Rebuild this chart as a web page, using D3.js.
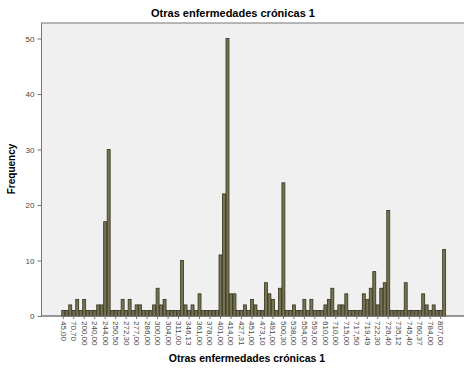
<!DOCTYPE html>
<meta charset="utf-8">
<title>Otras enfermedades crónicas 1</title>
<script src="https://d3js.org/d3.v7.min.js"></script>
<style>
body { margin: 0; background: #fff; }
text { font-family: "Liberation Sans", Arial, sans-serif; }
.tick text { fill: #444; font-size: 8px; }
.tick line, .domain { stroke: #777; }
</style>
<body>
<div id="chart"></div>
<script>
// frequency per category (110 categories, left to right)
var freq = [1,1,2,1,3,1,3,1,1,1, 2,2,17,30,1,1,1,3,1,3,
            1,2,2,1,1,1,2,5,2,3, 1,1,1,1,10,2,1,2,1,4,
            1,1,1,1,1,11,22,50,4,4, 1,1,2,1,3,2,1,1,6,4,
            3,1,5,24,1,1,2,1,1,3, 1,3,1,1,1,2,3,5,1,2,
            2,4,1,1,1,1,4,3,5,8, 2,5,6,19,1,1,1,1,6,1,
            1,1,1,4,2,1,2,1,1,12];

// only every third category gets a label
var tickLabels = ["45,00","70,70","200,00","240,00","244,00","250,50","272,30","277,00",
  "286,00","300,00","304,00","311,00","346,13","361,00","378,00","401,00","414,00",
  "427,31","451,00","473,10","491,00","500,30","538,00","554,00","593,00","610,00",
  "710,00","715,00","717,50","719,49","722,30","726,40","735,12","745,40","760,37",
  "784,00","807,00"];

var yTicks = [0, 10, 20, 30, 40, 50];

var W = 464, H = 369;
var plot = {left: 41.5, top: 23, bottom: 316, right: 475};

var svg = d3.select("#chart").append("svg")
  .attr("width", W)
  .attr("height", H);

// plot background
svg.append("rect")
  .attr("x", plot.left)
  .attr("y", plot.top)
  .attr("width", plot.right - plot.left)
  .attr("height", plot.bottom - plot.top)
  .attr("fill", "#f0f0f0")
  .attr("stroke", "#777")
  .attr("stroke-width", 1);

var x = d3.scaleBand()
  .domain(d3.range(freq.length))
  .range([61.75, 61.75 + freq.length * 3.49])
  .paddingInner(0.15);

var y = d3.scaleLinear()
  .domain([0, 50])
  .range([plot.bottom, 38.5]);

// bars
svg.append("g")
  .selectAll("rect")
  .data(freq)
  .enter()
  .append("rect")
    .attr("x", function(d, i) { return x(i); })
    .attr("y", function(d) { return y(d); })
    .attr("width", x.bandwidth())
    .attr("height", function(d) { return y(0) - y(d); })
    .attr("fill", "#767352")
    .attr("stroke", "#34331f")
    .attr("stroke-width", 0.8);

// Y axis
var yAxis = svg.append("g")
  .attr("transform", "translate(" + plot.left + ",0)")
  .call(d3.axisLeft(y).tickValues(yTicks).tickSize(4).tickPadding(3));
yAxis.select(".domain").remove();

// X axis
var labelIdx = tickLabels.map(function(d, i) { return i * 3; });
var xAxis = svg.append("g")
  .attr("transform", "translate(0," + plot.bottom + ")")
  .call(d3.axisBottom(x).tickValues(labelIdx)
    .tickFormat(function(d) { return tickLabels[d / 3]; })
    .tickSize(3).tickSizeOuter(0));
xAxis.select(".domain")
  .attr("d", "M" + plot.left + ",0H" + plot.right);
xAxis.selectAll(".tick text")
  .attr("transform", "rotate(90)")
  .attr("text-anchor", "start")
  .attr("x", 5)
  .attr("y", 0)
  .attr("dy", "0.32em");

// titles
svg.append("text")
  .attr("x", 233)
  .attr("y", 17)
  .attr("text-anchor", "middle")
  .style("font-size", "11px")
  .style("font-weight", "bold")
  .text("Otras enfermedades crónicas 1");

svg.append("text")
  .attr("x", 247)
  .attr("y", 362)
  .attr("text-anchor", "middle")
  .style("font-size", "10.5px")
  .style("font-weight", "bold")
  .text("Otras enfermedades crónicas 1");

svg.append("text")
  .attr("transform", "translate(15,169) rotate(-90)")
  .attr("text-anchor", "middle")
  .style("font-size", "10px")
  .style("font-weight", "bold")
  .text("Frequency");
</script>
</body>
